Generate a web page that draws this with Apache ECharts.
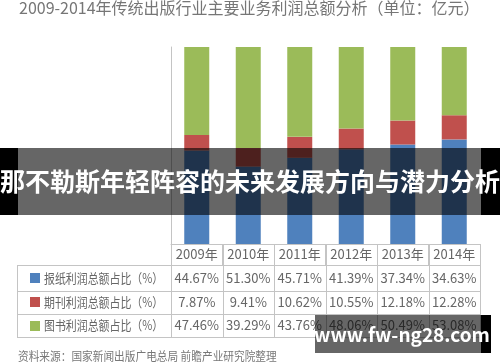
<!DOCTYPE html>
<html>
<head>
<meta charset="utf-8">
<script src="https://cdn.jsdelivr.net/npm/echarts@6/dist/echarts.min.js"></script>
<style>
html,body{margin:0;padding:0;background:#fff;}
#c{width:500px;height:362px;}
</style>
</head>
<body>
<div id="c"></div>
<script>
// ---- data ----
const years = ['2009年', '2010年', '2011年', '2012年', '2013年', '2014年'];
const newspaperShare = [44.67, 51.30, 45.71, 41.39, 37.34, 34.63];   // 报纸利润总额占比（%）
const periodicalShare = [7.87, 9.41, 10.62, 10.55, 12.18, 12.28];    // 期刊利润总额占比（%）
const bookShare = [47.46, 39.29, 43.76, 48.06, 50.49, 53.08];        // 图书利润总额占比（%）
const rowLabels = ['报纸利润总额占比（%）', '期刊利润总额占比（%）', '图书利润总额占比（%）'];
const titleText = '2009-2014年传统出版行业主要业务利润总额分析（单位：亿元）';
const sourceText = '资料来源：国家新闻出版广电总局 前瞻产业研究院整理';
const bannerText = '那不勒斯年轻阵容的未来发展方向与潜力分析';
const watermarkText = 'www.fw-ng28.com';

const FONT = '"Noto Sans CJK SC","Noto Sans",sans-serif';
const BLUE = '#4f81bd', RED = '#c0504d', GREEN = '#9bbb59';
const LINE = '#c4c4c4';

const chart = echarts.init(document.getElementById('c'), null, {renderer: 'canvas'});

const option = {
  animation: false,
  backgroundColor: '#fff',
  title: {
    text: titleText,
    left: 19,
    top: 0,
    padding: 0,
    textStyle: {fontSize: 16, fontWeight: 'normal', color: '#767676', fontFamily: FONT}
  },
  grid: {left: 171, right: 20, top: 47, bottom: 118, containLabel: false},
  xAxis: {
    type: 'category',
    data: years,
    axisLine: {show: true, lineStyle: {color: LINE, width: 1}},
    axisTick: {show: true, interval: 0, length: 21, lineStyle: {color: LINE, width: 1}},
    axisLabel: {margin: 4, fontSize: 13, color: '#666', fontFamily: FONT, interval: 0}
  },
  yAxis: {
    type: 'value',
    min: 0,
    max: 100,
    axisLine: {show: true, lineStyle: {color: LINE, width: 1}},
    axisTick: {show: false},
    axisLabel: {show: false},
    splitLine: {show: false}
  },
  series: [
    {name: '图书', type: 'bar', stack: 'a', barWidth: 25, data: bookShare, itemStyle: {color: BLUE}},
    {name: '期刊', type: 'bar', stack: 'a', barWidth: 25, data: periodicalShare, itemStyle: {color: RED}},
    {name: '报纸', type: 'bar', stack: 'a', barWidth: 25, data: newspaperShare, itemStyle: {color: GREEN}}
  ]
};
chart.setOption(option);

// ---- table built from axis positions ----
const c0 = chart.convertToPixel({xAxisIndex: 0}, years[0]);
const c1 = chart.convertToPixel({xAxisIndex: 0}, years[1]);
const band = c1 - c0;
const tableLeft = c0 - band / 2;
const tableRight = tableLeft + band * years.length;
const axisY = chart.convertToPixel({yAxisIndex: 0}, 0);
const rowTops = [axisY + 21, axisY + 46.5, axisY + 70, axisY + 93];
const outerLeft = 17;
const rows = [newspaperShare, periodicalShare, bookShare];
const rowColors = [BLUE, RED, GREEN];

const g = [];
function hline(x1, x2, y) {
  y = Math.round(y) + 0.5;
  g.push({type: 'line', shape: {x1: x1, y1: y, x2: x2, y2: y}, style: {stroke: LINE, lineWidth: 1}, z: 5});
}
function vline(x, y1, y2) {
  x = Math.round(x) + 0.5;
  g.push({type: 'line', shape: {x1: x, y1: y1, x2: x, y2: y2}, style: {stroke: LINE, lineWidth: 1}, z: 5});
}
rowTops.forEach(y => hline(outerLeft, tableRight, y));
vline(outerLeft, rowTops[0], rowTops[3]);
for (let i = 0; i <= years.length; i++) {
  vline(tableLeft + band * i, axisY, rowTops[3]);
}
rows.forEach((arr, r) => {
  const yc = (rowTops[r] + rowTops[r + 1]) / 2;
  g.push({type: 'rect', shape: {x: 30, y: Math.round(yc - 5), width: 10, height: 10}, style: {fill: rowColors[r]}, z: 6});
  g.push({type: 'text', x: 44, y: yc, scaleX: 0.84, style: {text: rowLabels[r], align: 'left', verticalAlign: 'middle', font: '13px ' + FONT, fill: '#666'}, z: 6});
  arr.forEach((v, i) => {
    const xc = chart.convertToPixel({xAxisIndex: 0}, years[i]);
    g.push({type: 'text', x: xc, y: yc, style: {text: v.toFixed(2) + '%', align: 'center', verticalAlign: 'middle', font: '13px ' + FONT, fill: '#666'}, z: 6});
  });
});
// source note
g.push({type: 'text', x: 18, y: 356, scaleX: 0.89, style: {text: sourceText, align: 'left', verticalAlign: 'middle', font: '12px ' + FONT, fill: '#777'}, z: 6});

// overlay banner
g.push({type: 'rect', shape: {x: 18, y: 148, width: 463, height: 67}, style: {fill: 'rgba(0,0,0,0.6)'}, z: 100});
g.push({type: 'rect', shape: {x: 0, y: 148, width: 18, height: 67}, style: {fill: '#000'}, z: 100});
g.push({type: 'rect', shape: {x: 481, y: 148, width: 19, height: 67}, style: {fill: '#000'}, z: 100});
g.push({type: 'text', x: 250, y: 181, style: {text: bannerText, align: 'center', verticalAlign: 'middle', font: 'bold 25px ' + FONT, fill: '#fff'}, z: 101});

// watermark
g.push({type: 'rect', shape: {x: 315, y: 315, width: 166, height: 38}, style: {fill: 'rgba(0,0,0,0.6)'}, z: 100});
g.push({type: 'rect', shape: {x: 481, y: 315, width: 10, height: 38}, style: {fill: '#000'}, z: 100});
g.push({type: 'text', x: 402, y: 335, style: {text: watermarkText, align: 'center', verticalAlign: 'middle', font: 'bold 19px ' + FONT, fill: '#fff'}, z: 101});

chart.setOption({graphic: {elements: g}});
</script>
</body>
</html>
